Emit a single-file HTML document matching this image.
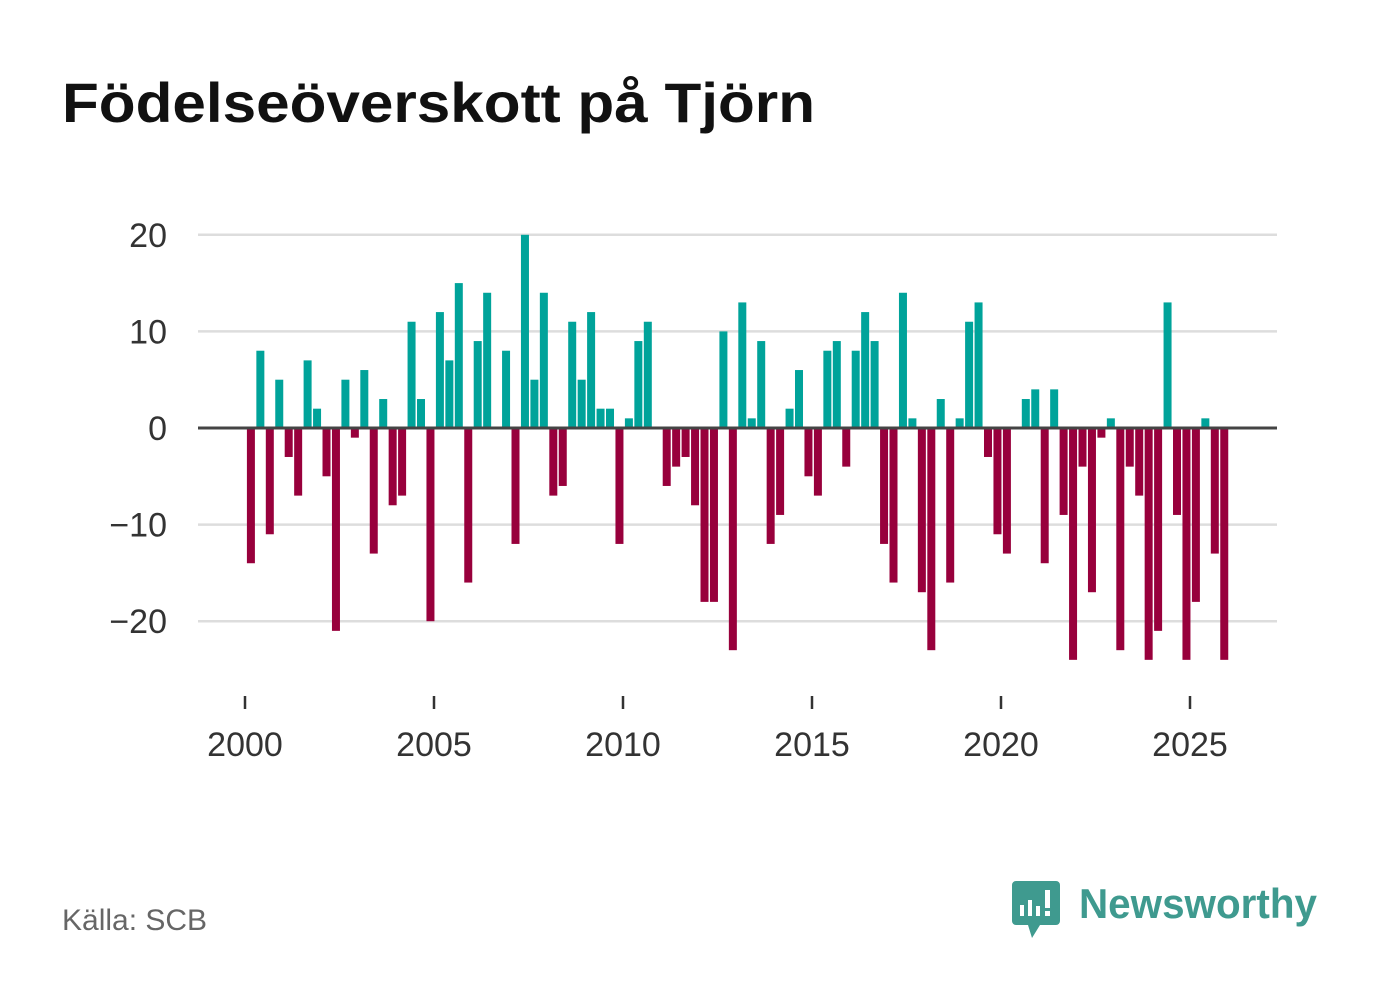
<!DOCTYPE html>
<html><head><meta charset="utf-8"><style>
html,body{margin:0;padding:0;background:#fff;}
svg{display:block;font-family:"Liberation Sans",sans-serif;}
</style></head><body>
<svg id="chart" width="1382" height="999" viewBox="0 0 1382 999" xmlns="http://www.w3.org/2000/svg">
<text x="62" y="122" font-size="56" font-weight="bold" fill="#111" textLength="753" lengthAdjust="spacingAndGlyphs">Födelseöverskott på Tjörn</text>
<g id="grid"></g>
<g id="bars"></g>
<g id="xaxis"></g>
<text x="62" y="930" font-size="30" fill="#666">Källa: SCB</text>
<g>
<path d="M1016 881 h40 a4 4 0 0 1 4 4 v36 a4 4 0 0 1 -4 4 h-16 l-8 13 l-4 -13 h-12 a4 4 0 0 1 -4 -4 v-36 a4 4 0 0 1 4 -4z" fill="#3f9a8f"/>
<rect x="1020" y="905" width="4" height="11" fill="#fff"/>
<rect x="1028" y="900" width="4" height="16" fill="#fff"/>
<rect x="1036" y="906" width="4" height="10" fill="#fff"/>
<rect x="1045" y="890" width="5" height="18" fill="#fff"/>
<rect x="1045" y="911" width="5" height="5" fill="#fff"/>
<text x="1079" y="918" font-size="42" font-weight="bold" fill="#3f9a8f" textLength="238" lengthAdjust="spacingAndGlyphs">Newsworthy</text>
</g>
</svg>
<script>
const values = [-14,8,-11,5,-3,-7,7,2,-5,-21,5,-1,6,-13,3,-8,-7,11,3,-20,12,7,15,-16,9,14,0,8,-12,20,5,14,-7,-6,11,5,12,2,2,-12,1,9,11,0,-6,-4,-3,-8,-18,-18,10,-23,13,1,9,-12,-9,2,6,-5,-7,8,9,-4,8,12,9,-12,-16,14,1,-17,-23,3,-16,1,11,13,-3,-11,-13,0,3,4,-14,4,-9,-24,-4,-17,-1,1,-23,-4,-7,-24,-21,13,-9,-24,-18,1,-13,-24];
const startYear = 2000;
const yTicks = [20,10,0,-10,-20];
const yTickLabels = ["20","10","0","\u221210","\u221220"];
const xTicks = [2000,2005,2010,2015,2020,2025];
const NS="http://www.w3.org/2000/svg";
const X0=245, PX_YEAR=37.8, Y0=428, PX_UNIT=9.66;
const x = t => X0 + (t - 2000) * PX_YEAR;
const y = v => Y0 - v * PX_UNIT;
function mk(tag, attrs){const e=document.createElementNS(NS,tag);for(const k in attrs)e.setAttribute(k,attrs[k]);return e;}
const grid=document.getElementById('grid');
yTicks.forEach((t,i)=>{
  if(t!==0){
    const l=mk('line',{x1:198,x2:1277,y1:y(t),y2:y(t),stroke:'#dddddd','stroke-width':2.5});
    
    
    grid.appendChild(l);
  }
  const tx=mk('text',{x:167,y:y(t)+12,'text-anchor':'end','font-size':34,fill:'#333'});
  
  
  tx.textContent=yTickLabels[i];
  grid.appendChild(tx);
});
const bars=document.getElementById('bars');
values.forEach((v,i)=>{
  if(v===0)return;
  const cx=x(startYear+(i+0.625)/4);
  const top=Math.min(y(v),Y0), h=Math.abs(y(v)-Y0);
  const r=mk('rect',{x:cx-4,y:top,width:8,height:h,fill:v>0?'#00a39a':'#98003c'});
  
  
  bars.appendChild(r);
});
const zl=mk('line',{x1:198,x2:1277,y1:Y0,y2:Y0,stroke:'#444','stroke-width':3});


bars.appendChild(zl);
const xa=document.getElementById('xaxis');
xTicks.forEach(t=>{
  const l=mk('line',{x1:x(t),x2:x(t),y1:696,y2:709,stroke:'#333','stroke-width':2.5});
  
  
  xa.appendChild(l);
  const tx=mk('text',{x:x(t),y:756,'text-anchor':'middle','font-size':34,fill:'#333'});
  
  
  tx.textContent=t;
  xa.appendChild(tx);
});
</script>
</body></html>
